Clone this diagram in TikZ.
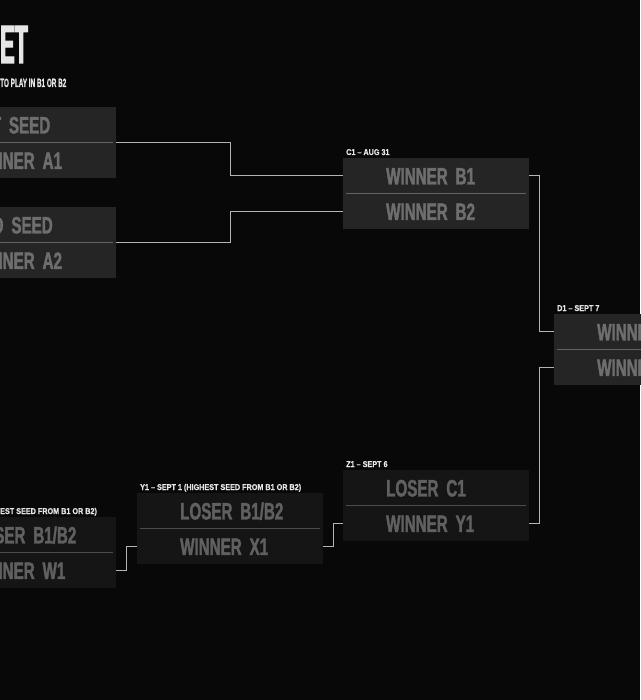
\documentclass[tikz,border=0pt]{standalone}
\usepackage{fontspec}
\newfontfamily\slotfont{Liberation Sans}[FakeStretch=0.64,FakeBold=1.6]
\newfontfamily\tagfont{Liberation Sans}[FakeStretch=0.86,FakeBold=0.6]
\newfontfamily\headfont{Liberation Sans}[FakeStretch=0.4,FakeBold=2]
\newfontfamily\subfont{Liberation Sans}[FakeStretch=0.53,FakeBold=0.6]
\definecolor{bg}{HTML}{080808}
\definecolor{boxup}{HTML}{252525}
\definecolor{boxlo}{HTML}{151515}
\definecolor{txtup}{HTML}{6E6E6E}
\definecolor{txtlo}{HTML}{606060}
\definecolor{divup}{HTML}{626262}
\definecolor{divlo}{HTML}{4C4C4C}
\definecolor{wirecol}{HTML}{B4B4B4}
\definecolor{tagcol}{HTML}{E6E6E6}
\tikzset{
  slot/.style={rectangle, anchor=north west, minimum width=186pt, minimum height=35.5pt,
    inner sep=0pt, text width=186pt, align=left, text height=17pt, text depth=0pt,
    font=\slotfont\bfseries\fontsize{23.7}{24}\selectfont, execute at begin node=\hspace*{43pt}},
  upper/.style={slot, fill=boxup, text=txtup},
  lower/.style={slot, fill=boxlo, text=txtlo},
  tag/.style={anchor=base west, inner sep=0pt, text=tagcol, font=\tagfont\bfseries\fontsize{8.4}{9}\selectfont},
  wire/.style={draw=wirecol, line width=1pt},
}
\begin{document}
\begin{tikzpicture}[x=1pt, y=-1pt]
            \useasboundingbox (0,0) rectangle (640,700);
            \fill[bg] (0,0) rectangle (640,700);

            % Heading
            \node[anchor=base west, inner sep=0pt, text=tagcol, font=\headfont\bfseries\fontsize{54}{54}\selectfont] (head) at (0,63) {ET};
            \node[anchor=base west, inner sep=0pt, text=tagcol, font=\subfont\bfseries\fontsize{12}{12}\selectfont] (sub) at (0,87) {TO PLAY IN B1 OR B2};

            % First stage nodes
            \node[upper] (a1) at (-70,107) {1ST SEED};
            \node[upper] (a2) at (-70,142.5) {WINNER A1};
            \draw[line width=1pt, divup] ([xshift=3pt]a2.north west) -- ([xshift=-3pt]a2.north east);

            \node[upper] (b1) at (-70,207) {2ND SEED};
            \node[upper] (b2) at (-70,242.5) {WINNER A2};
            \draw[line width=1pt, divup] ([xshift=3pt]b2.north west) -- ([xshift=-3pt]b2.north east);

            % Second stage nodes
            \node[upper] (c1) at (343,158) {WINNER B1};
            \node[upper] (c2) at (343,193.5) {WINNER B2};
            \draw[line width=1pt, divup] ([xshift=3pt]c2.north west) -- ([xshift=-3pt]c2.north east);
            \node[tag] (c-tag) at ([xshift=3pt, yshift=3pt]c1.north west) {C1 – AUG 31};
            \draw[wire] (a2.north east) -- ++(114,0) |- (c1.west);
            \draw[wire] (b2.north east) -- ++(114,0) |- (c2.west);

            % Lower stage nodes
            \node[lower] (w1) at (-70,517) {LOSER B1/B2};
            \node[lower] (w2) at (-70,552.5) {WINNER W1};
            \draw[line width=1pt, divlo] ([xshift=3pt]w2.north west) -- ([xshift=-3pt]w2.north east);
            \node[tag] (w-tag) at (0,514) {EST SEED FROM B1 OR B2)};

            \node[lower] (y1) at (137,493) {LOSER B1/B2};
            \node[lower] (y2) at (137,528.5) {WINNER X1};
            \draw[line width=1pt, divlo] ([xshift=3pt]y2.north west) -- ([xshift=-3pt]y2.north east);
            \node[tag] (y-tag) at ([xshift=3pt, yshift=3pt]y1.north west) {Y1 – SEPT 1 (HIGHEST SEED FROM B1 OR B2)};
            \draw[wire] (w2.east) -- ++(10.5,0) |- (y2.west);

            \node[lower] (z1) at (343,470) {LOSER C1};
            \node[lower] (z2) at (343,505.5) {WINNER Y1};
            \draw[line width=1pt, divlo] ([xshift=3pt]z2.north west) -- ([xshift=-3pt]z2.north east);
            \node[tag] (z-tag) at ([xshift=3pt, yshift=3pt]z1.north west) {Z1 – SEPT 6};
            \draw[wire] (y2.east) -- ++(10,0) |- (z2.west);

            % Final stage nodes
            \node[upper] (d1) at (554,314) {WINNER C1};
            \node[upper] (d2) at (554,349.5) {WINNER Z1};
            \draw[line width=1pt, divup] ([xshift=3pt]d2.north west) -- ([xshift=-3pt]d2.north east);
            \node[tag] (d-tag) at ([xshift=3pt, yshift=3pt]d1.north west) {D1 – SEPT 7};
            \draw[wire] (c1.east) -- ++(10,0) |- (d1.west);
            \draw[wire] (z2.east) -- ++(10,0) |- (d2.west);
        \end{tikzpicture}
\end{document}
